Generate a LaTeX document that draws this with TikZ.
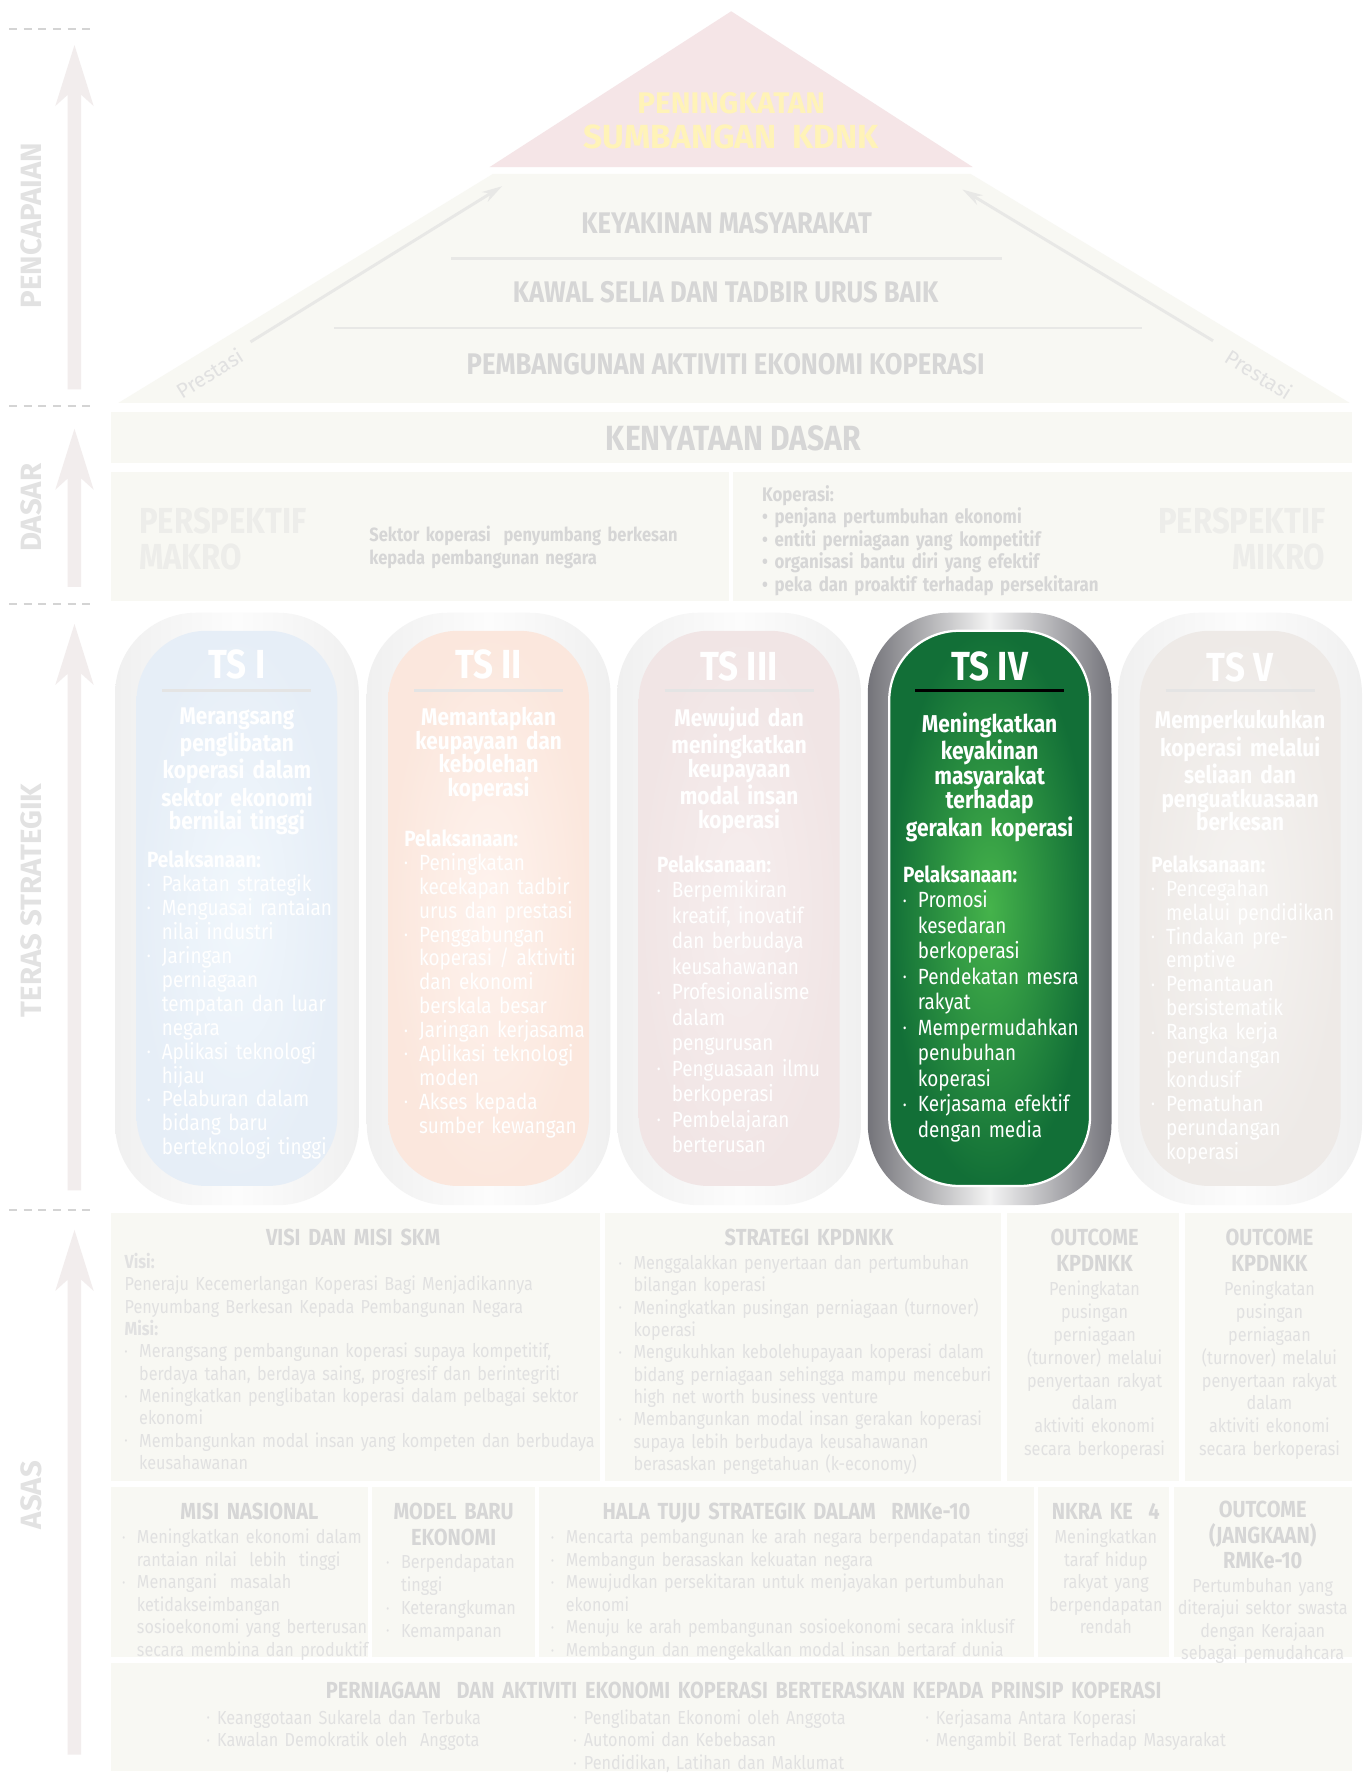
\documentclass[tikz,border=0pt]{standalone}
\usepackage{fontspec}
\setmainfont{Fira Sans}
\newfontfamily\cnd{Fira Sans}[FakeStretch=0.86]
\usetikzlibrary{arrows.meta}
\definecolor{boxfill}{HTML}{F8F8F3}
\definecolor{ttlgray}{HTML}{D6D6D6}
\definecolor{txtgray}{HTML}{E1E1E1}
\definecolor{pyrpink}{HTML}{F5E5E7}
\definecolor{pyryellow}{HTML}{FFF3B8}
\definecolor{pyrline}{HTML}{E8E8E6}
\definecolor{arrowfill}{HTML}{F2EDED}
\definecolor{sidegray}{HTML}{E2E2E2}
\definecolor{dashgray}{HTML}{D4D4D4}
\definecolor{faintgray}{HTML}{EDEDEA}
\definecolor{ringlight}{HTML}{FCFCFC}
\definecolor{ringgray}{HTML}{F0F0F0}
\definecolor{tsline}{HTML}{E4E4E4}
\definecolor{tsblueL}{HTML}{F1F7FC}
\definecolor{tsblueD}{HTML}{E6EEF7}
\definecolor{tspeachL}{HTML}{FEF3EE}
\definecolor{tspeachD}{HTML}{FBE7DD}
\definecolor{tspinkL}{HTML}{F6EEEE}
\definecolor{tspinkD}{HTML}{F1E5E5}
\definecolor{tsbeigeL}{HTML}{F5F3F1}
\definecolor{tsbeigeD}{HTML}{EEEAE7}
\definecolor{greenL}{HTML}{45B34B}
\definecolor{greenD}{HTML}{126F37}
\definecolor{silverD}{HTML}{74747A}
\definecolor{silverL}{HTML}{F4F4F4}
\newlength\bulw
\setlength\bulw{6.5pt}
\newcommand\bul{\makebox[\bulw][l]{\raisebox{.12em}{\scalebox{.55}{•}}}}
\newcommand\cnt{\hspace*{\bulw}}
% arrow on the left margin: tip y, foot y
\newcommand\sidearrow[2]{%
  \fill[arrowfill] (66,#1) -- (83,{#1+54}) -- (72,{#1+44}) -- (72,#2) -- (60,#2)
    -- (60,{#1+44}) -- (49,{#1+54}) -- cycle;}
% one strategic pillar: centre x, ring style, inner style
\newcommand\tspill[3]{%
  \path[#2, rounded corners=36pt] ({#1-108},543) rectangle ({#1+108},1068);
  \path[#3, rounded corners=31pt] ({#1-89},559) rectangle ({#1+89},1051);}
\tikzset{
  box/.style={fill=boxfill},
  boxttl/.style={font=\cnd\bfseries\fontsize{10.3}{11.5}\selectfont, text=ttlgray,
    inner sep=0pt, anchor=base, align=center, text width=160pt},
  boxtxt/.style={font=\cnd\fontsize{8.35}{9.9}\selectfont, text=txtgray,
    inner sep=0pt, anchor=base west, align=left, text width=150pt},
  boxmid/.style={boxtxt, anchor=base, align=center, text width=76pt},
  pyrttl/.style={font=\cnd\bfseries\fontsize{13.2}{14}\selectfont, text=ttlgray,
    inner sep=0pt, anchor=base},
  sidelbl/.style={font=\bfseries\fontsize{13}{13}\selectfont, text=sidegray,
    rotate=90, inner sep=0pt},
  dashsep/.style={draw=dashgray, line width=1pt, dash pattern=on 3.5pt off 3pt},
  fadering/.style={left color=ringgray, right color=ringgray, middle color=ringlight},
  tstitle/.style={font=\cnd\bfseries\fontsize{18}{18}\selectfont, text=white,
    inner sep=0pt, anchor=base},
  tssub/.style={font=\cnd\bfseries\fontsize{10.7}{10.5}\selectfont, text=white,
    inner sep=0pt, anchor=base, align=center, text width=100pt},
  tsbody/.style={font=\cnd\fontsize{9.75}{10.6}\selectfont, text=white,
    inner sep=0pt, anchor=base west, align=left, text width=100pt},
  prestasi/.style={draw=pyrline, line width=1.3pt, -{Stealth[length=9pt,width=5pt]}},
  prestlbl/.style={font=\fontsize{9.2}{10}\selectfont, text=txtgray, inner sep=0pt}
}
\begin{document}
\begin{tikzpicture}[x=0.5pt, y=-0.5pt]
  \useasboundingbox[fill=white] (0,0) rectangle (1210,1573);

  % left margin
  \draw[dashsep] (8,26) -- (82,26);
  \draw[dashsep] (8,360) -- (82,360);
  \draw[dashsep] (8,535) -- (82,535);
  \draw[dashsep] (8,1072) -- (82,1072);
  \sidearrow{40}{345}
  \sidearrow{380}{520}
  \sidearrow{553}{1055}
  \sidearrow{1090}{1555}
  \node[sidelbl] (pencapaian) at (28,200) {PENCAPAIAN};
  \node[sidelbl] (dasar) at (28,450) {DASAR};
  \node[sidelbl] (teras) at (28,798) {TERAS STRATEGIK};
  \node[sidelbl] (asas) at (28,1325) {ASAS};

  % pyramid
  \fill[pyrpink] (648,10) -- (862,148) -- (434,148) -- cycle;
  \fill[box] (437,154) -- (860,154) -- (1196,357) -- (105,357) -- cycle;
  \node[font=\bfseries\fontsize{13.2}{14}\selectfont, text=pyryellow, inner sep=0pt,
    anchor=base] (peningkatan) at (648,101) {PENINGKATAN};
  \node[font=\bfseries\fontsize{14.8}{16}\selectfont, text=pyryellow, inner sep=0pt,
    anchor=base] (sumbangan) at (648,132) {SUMBANGAN\ \ KDNK};
  \node[pyrttl] (keyakinan) at (644,207) {KEYAKINAN MASYARAKAT};
  \draw[pyrline, line width=1pt] (400,229) -- (888,229);
  \node[pyrttl] (kawal) at (643,268) {KAWAL SELIA DAN TADBIR URUS BAIK};
  \draw[pyrline, line width=1pt] (296,291) -- (1012,291);
  \node[pyrttl] (pembangunan) at (643,332) {PEMBANGUNAN AKTIVITI EKONOMI KOPERASI};
  \coordinate (prestLfoot) at (222,303);
  \coordinate (prestLtip) at (445,165);
  \coordinate (prestRfoot) at (1075,302);
  \coordinate (prestRtip) at (853,168);
  \draw[prestasi] (prestLfoot) -- (prestLtip);
  \draw[prestasi] (prestRfoot) -- (prestRtip);
  \node[prestlbl, rotate=32] (prestL) at (186,331) {Prestasi};
  \node[prestlbl, rotate=-32] (prestR) at (1116,332) {Prestasi};

  % dasar
  \fill[box] (98,365) rectangle (1198,410);
  \node[pyrttl, font=\cnd\bfseries\fontsize{15.5}{16}\selectfont] (kenyataan) at (650,399) {KENYATAAN DASAR};
  \fill[box] (98,418) rectangle (646,533);
  \fill[box] (650,418) rectangle (1198,533);
  \node[font=\cnd\bfseries\fontsize{16}{16}\selectfont, text=faintgray, inner sep=0pt,
    anchor=base west, align=left, text width=80pt] (makro) at (123,473) {PERSPEKTIF\\MAKRO};
  \node[boxtxt, font=\cnd\bfseries\fontsize{8.5}{10}\selectfont, text=ttlgray] (sektor) at (327,480)
    {Sektor koperasi\ \ penyumbang berkesan\\kepada pembangunan negara};
  \node[boxtxt, font=\cnd\bfseries\fontsize{8.7}{10}\selectfont, text=ttlgray, text width=165pt]
    (koperasi) at (675,444)
    {Koperasi:\\ •~penjana pertumbuhan ekonomi\\ •~entiti perniagaan yang kompetitif\\
     •~organisasi bantu diri yang efektif\\ •~peka dan proaktif terhadap persekitaran};
  \node[font=\cnd\bfseries\fontsize{16}{16}\selectfont, text=faintgray, inner sep=0pt,
    anchor=base east, align=right, text width=80pt] (mikro) at (1175,473) {PERSPEKTIF\\MIKRO};

  % teras strategik
  \tspill{210}{fadering}{shading=radial, inner color=tsblueL, outer color=tsblueD}
  \tspill{433}{fadering}{shading=radial, inner color=tspeachL, outer color=tspeachD}
  \tspill{655}{fadering}{shading=radial, inner color=tspinkL, outer color=tspinkD}
  \tspill{877}{left color=silverD, right color=silverD, middle color=silverL}
    {shading=radial, inner color=greenL, outer color=greenD, draw=white, line width=1pt}
  \tspill{1099}{fadering}{shading=radial, inner color=tsbeigeL, outer color=tsbeigeD}
  \draw[tsline, line width=1.5pt] (144,612) -- (276,612);
  \draw[tsline, line width=1.5pt] (367,612) -- (499,612);
  \draw[tsline, line width=1.5pt] (589,612) -- (721,612);
  \draw[black, line width=1.5pt] (811,612) -- (943,612);
  \draw[tsline, line width=1.5pt] (1033,612) -- (1165,612);

  \node[tstitle] (ts1) at (210,601) {TS I};
  \node[tssub] (ts1aim) at (210,642)
    {Merangsang\\penglibatan\\koperasi dalam\\sektor ekonomi\\bernilai tinggi};
  \node[tsbody] (ts1do) at (130,769)
    {{\bfseries Pelaksanaan:}\\
     \bul Pakatan strategik\\
     \bul Menguasai rantaian\\ \cnt nilai industri\\
     \bul Jaringan\\ \cnt perniagaan\\ \cnt tempatan dan luar\\ \cnt negara\\
     \bul Aplikasi teknologi\\ \cnt hijau\\
     \bul Pelaburan dalam\\ \cnt bidang baru\\ \cnt berteknologi tinggi};

  \node[tstitle] (ts2) at (433,601) {TS II};
  \node[tssub] (ts2aim) at (433,643)
    {Memantapkan\\keupayaan dan\\kebolehan\\koperasi};
  \node[tsbody] (ts2do) at (358,750)
    {{\bfseries Pelaksanaan:}\\
     \bul Peningkatan\\ \cnt kecekapan tadbir\\ \cnt urus dan prestasi\\
     \bul Penggabungan\\ \cnt koperasi / aktiviti\\ \cnt dan ekonomi\\ \cnt berskala besar\\
     \bul Jaringan kerjasama\\
     \bul Aplikasi teknologi\\ \cnt moden\\
     \bul Akses kepada\\ \cnt sumber kewangan};

  \node[tstitle] (ts3) at (655,603) {TS III};
  \node[tssub] (ts3aim) at (655,644)
    {Mewujud dan\\meningkatkan\\keupayaan\\modal insan\\koperasi};
  \node[tsbody, font=\cnd\fontsize{9.75}{11.3}\selectfont] (ts3do) at (582,773)
    {{\bfseries Pelaksanaan:}\\
     \bul Berpemikiran\\ \cnt kreatif, inovatif\\ \cnt dan berbudaya\\ \cnt keusahawanan\\
     \bul Profesionalisme\\ \cnt dalam\\ \cnt pengurusan\\
     \bul Penguasaan ilmu\\ \cnt berkoperasi\\
     \bul Pembelajaran\\ \cnt berterusan};

  \node[tstitle] (ts4) at (877,603) {TS IV};
  \node[tssub, font=\cnd\bfseries\fontsize{10.8}{10.9}\selectfont] (ts4aim) at (877,649)
    {Meningkatkan\\keyakinan\\masyarakat\\terhadap\\gerakan koperasi};
  \node[tsbody, font=\cnd\fontsize{9.75}{11.3}\selectfont] (ts4do) at (800,782)
    {{\bfseries Pelaksanaan:}\\
     \bul Promosi\\ \cnt kesedaran\\ \cnt berkoperasi\\
     \bul Pendekatan mesra\\ \cnt rakyat\\
     \bul Mempermudahkan\\ \cnt penubuhan\\ \cnt koperasi\\
     \bul Kerjasama efektif\\ \cnt dengan media};

  \node[tstitle] (ts5) at (1099,604) {TS V};
  \node[tssub] (ts5aim) at (1099,646)
    {Memperkukuhkan\\koperasi melalui\\seliaan dan\\penguatkuasaan\\berkesan};
  \node[tsbody] (ts5do) at (1020,773)
    {{\bfseries Pelaksanaan:}\\
     \bul Pencegahan\\ \cnt melalui pendidikan\\
     \bul Tindakan pre-\\ \cnt emptive\\
     \bul Pemantauan\\ \cnt bersistematik\\
     \bul Rangka kerja\\ \cnt perundangan\\ \cnt kondusif\\
     \bul Pematuhan\\ \cnt perundangan\\ \cnt koperasi};

  % asas, first row
  \fill[box] (98,1075) rectangle (532,1312);
  \fill[box] (536,1075) rectangle (887,1312);
  \fill[box] (892,1075) rectangle (1045,1312);
  \fill[box] (1050,1075) rectangle (1198,1312);
  \node[boxttl] (visiT) at (313,1104) {VISI DAN MISI SKM};
  \node[boxtxt, text width=212pt] (visi) at (110,1124)
    {{\bfseries Visi:}\\
     Peneraju Kecemerlangan Koperasi Bagi Menjadikannya\\
     Penyumbang Berkesan Kepada Pembangunan Negara\\
     {\bfseries Misi:}\\
     \bul Merangsang pembangunan koperasi supaya kompetitif,\\
     \cnt berdaya tahan, berdaya saing, progresif dan berintegriti\\
     \bul Meningkatkan penglibatan koperasi dalam pelbagai sektor\\ \cnt ekonomi\\
     \bul Membangunkan modal insan yang kompeten dan berbudaya\\ \cnt keusahawanan};
  \node[boxttl] (strategiT) at (717,1104) {STRATEGI KPDNKK};
  \node[boxtxt, text width=168pt] (strategi) at (548,1125)
    {\bul Menggalakkan penyertaan dan pertumbuhan\\ \cnt bilangan koperasi\\
     \bul Meningkatkan pusingan perniagaan (turnover)\\ \cnt koperasi\\
     \bul Mengukuhkan kebolehupayaan koperasi dalam\\
     \cnt bidang perniagaan sehingga mampu menceburi\\ \cnt high net worth business venture\\
     \bul Membangunkan modal insan gerakan koperasi\\
     \cnt supaya lebih berbudaya keusahawanan\\ \cnt berasaskan pengetahuan (k-economy)};
  \node[boxttl, text width=75pt] (outcome1T) at (970,1104) {OUTCOME\\KPDNKK};
  \node[boxmid, font=\cnd\fontsize{8.35}{10.15}\selectfont] (outcome1) at (970,1148)
    {Peningkatan\\pusingan\\perniagaan\\(turnover) melalui\\penyertaan rakyat\\dalam\\aktiviti ekonomi\\secara berkoperasi};
  \node[boxttl, text width=74pt] (outcome2T) at (1125,1104) {OUTCOME\\KPDNKK};
  \node[boxmid, text width=74pt, font=\cnd\fontsize{8.35}{10.15}\selectfont] (outcome2) at (1125,1148)
    {Peningkatan\\pusingan\\perniagaan\\(turnover) melalui\\penyertaan rakyat\\dalam\\aktiviti ekonomi\\secara berkoperasi};

  % asas, second row
  \fill[box] (98,1318) rectangle (326,1468);
  \fill[box] (330,1318) rectangle (474,1468);
  \fill[box] (478,1318) rectangle (916,1468);
  \fill[box] (920,1318) rectangle (1036,1468);
  \fill[box] (1040,1318) rectangle (1198,1468);
  \node[boxttl, text width=110pt] (misiT) at (221,1347) {MISI NASIONAL};
  \node[boxtxt, text width=110pt, font=\cnd\fontsize{8.35}{10}\selectfont] (misi) at (108,1368)
    {\bul Meningkatkan ekonomi dalam\\ \cnt rantaian nilai\ \ lebih\ \ tinggi\\
     \bul Menangani\ \ masalah\\ \cnt ketidakseimbangan\\ \cnt sosioekonomi yang berterusan\\
     \cnt secara membina dan produktif};
  \node[boxttl, text width=70pt] (modelT) at (402,1347) {MODEL BARU\\EKONOMI};
  \node[boxtxt, text width=64pt, font=\cnd\fontsize{8.35}{10.15}\selectfont] (model) at (342,1390)
    {\bul Berpendapatan\\ \cnt tinggi\\ \bul Keterangkuman\\ \bul Kemampanan};
  \node[boxttl, text width=210pt] (halaT) at (697,1347) {HALA TUJU STRATEGIK DALAM\ \ RMKe-10};
  \node[boxtxt, text width=216pt, font=\cnd\fontsize{8.3}{10}\selectfont] (hala) at (488,1368)
    {\bul \mbox{Mencarta pembangunan ke arah negara berpendapatan tinggi}\\
     \bul Membangun berasaskan kekuatan negara\\
     \bul Mewujudkan persekitaran untuk menjayakan pertumbuhan\\ \cnt ekonomi\\
     \bul \mbox{Menuju ke arah pembangunan sosioekonomi secara inklusif}\\
     \bul \mbox{Membangun dan mengekalkan modal insan bertaraf dunia}};
  \node[boxttl, text width=56pt] (nkraT) at (980,1347) {NKRA KE\ \ 4};
  \node[boxmid, text width=56pt, font=\cnd\fontsize{8.35}{10}\selectfont] (nkra) at (980,1368)
    {Meningkatkan\\taraf hidup\\rakyat yang\\berpendapatan\\rendah};
  \node[boxttl, text width=76pt, font=\cnd\bfseries\fontsize{10.3}{11.25}\selectfont] (jangkaT) at (1119,1345)
    {OUTCOME\\(JANGKAAN)\\RMKe-10};
  \node[boxmid, text width=78pt, font=\cnd\fontsize{8.35}{10}\selectfont] (jangka) at (1119,1411)
    {Pertumbuhan yang\\diterajui sektor swasta\\dengan Kerajaan\\sebagai pemudahcara};

  % asas, third row
  \fill[box] (98,1474) rectangle (1198,1569);
  \node[boxttl, text width=500pt] (prinsipT) at (659,1505)
    {PERNIAGAAN\ \ DAN AKTIVITI EKONOMI KOPERASI BERTERASKAN KEPADA PRINSIP KOPERASI};
  \node[boxtxt, font=\cnd\fontsize{8.35}{10}\selectfont] (prinsipA) at (183,1528)
    {\setlength\bulw{4.5pt}\bul Keanggotaan Sukarela dan Terbuka\\ \bul Kawalan Demokratik oleh\ \ Anggota};
  \node[boxtxt, font=\cnd\fontsize{8.35}{10}\selectfont] (prinsipB) at (508,1528)
    {\setlength\bulw{4.5pt}\bul Penglibatan Ekonomi oleh Anggota\\ \bul Autonomi dan Kebebasan\\
     \bul Pendidikan, Latihan dan Maklumat};
  \node[boxtxt, font=\cnd\fontsize{8.35}{10}\selectfont, text width=170pt] (prinsipC) at (820,1528)
    {\setlength\bulw{4.5pt}\bul Kerjasama Antara Koperasi\\ \bul Mengambil Berat Terhadap Masyarakat};
\end{tikzpicture}
\end{document}
